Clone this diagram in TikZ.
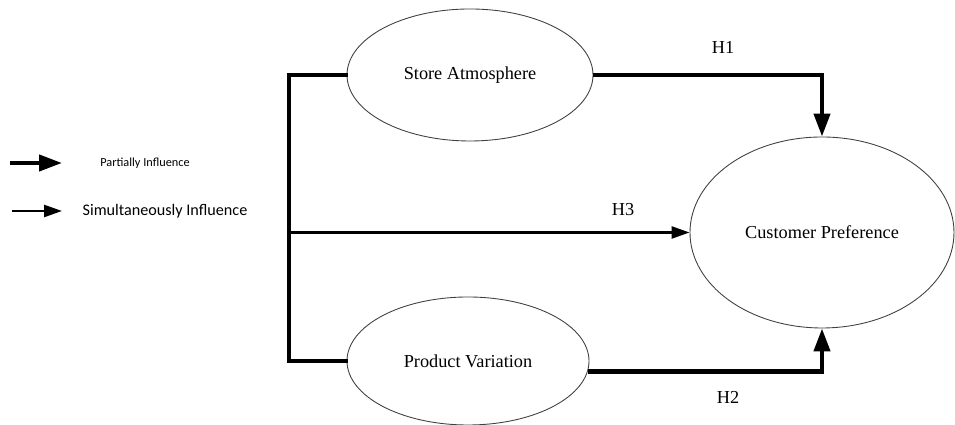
\documentclass[tikz,border=0pt]{standalone}
\usepackage{fontspec}
\setmainfont{Liberation Serif}
\newfontfamily\legendfont{Carlito}
\usepackage{tikz}
\usetikzlibrary{arrows.meta,shapes.geometric}

\tikzset{
	var/.style={draw=black!75,line width=0.5pt,ellipse,inner sep=0pt,font=\fontsize{10.4}{12}\selectfont},
	partial/.style={line width=2.4pt,-{Triangle[length=0.46cm,width=0.32cm]}},
	simul/.style={line width=1.4pt,-{Triangle[length=0.36cm,width=0.24cm]}},
	link/.style={line width=1.8pt},
	hyp/.style={font=\fontsize{10.4}{12}\selectfont}
}

\begin{document}
\begin{tikzpicture}
		\useasboundingbox (0,0) rectangle (19.1,8.5);
		
		\node[var,minimum width=4.92cm,minimum height=2.64cm] (SA) at (9.40,7.00) {Store Atmosphere};
		\node[var,minimum width=4.84cm,minimum height=2.56cm] (PV) at (9.36,1.28) {Product Variation};
		\node[var,minimum width=5.28cm,minimum height=3.82cm] (CP) at (16.44,3.85) {Customer Preference};
		
		\coordinate (top) at (5.78,7.00);
		\coordinate (bot) at (5.78,1.28);
		\coordinate (mid) at (5.78,3.85);
		
		\draw[link,line cap=rect] (SA.west) -- (top) -- (bot) -- (PV.west);
		\draw[simul] (mid) -- (CP.west);
		\draw[partial] (SA.east) -| (CP.north);
		\draw[partial] (PV.-5) -| (CP.south);
		
		\node[hyp] (h1) at (14.46,7.56) {H1};
		\node[hyp] (h3) at (12.46,4.30) {H3};
		\node[hyp] (h2) at (14.56,0.56) {H2};
		
		\coordinate (pa) at (0.20,5.24);
		\coordinate (pb) at (1.24,5.24);
		\coordinate (sa) at (0.24,4.28);
		\coordinate (sb) at (1.24,4.28);
		\draw[partial] (pa) -- (pb);
		\draw[simul] (sa) -- (sb);
		\node[font=\legendfont\fontsize{7}{8}\selectfont] (pl) at (2.90,5.24) {Partially Influence};
		\node[font=\legendfont\fontsize{9.2}{11}\selectfont] (sl) at (3.30,4.28) {Simultaneously Influence};
	\end{tikzpicture}
\end{document}
